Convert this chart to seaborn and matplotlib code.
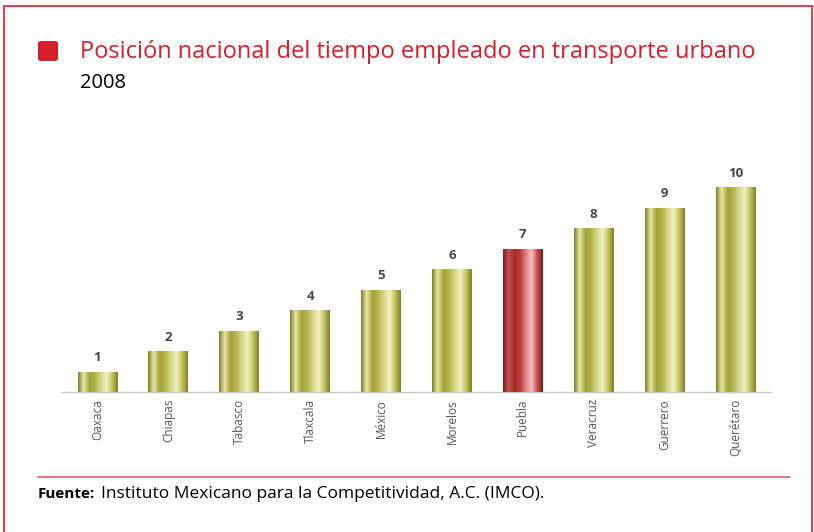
import matplotlib
matplotlib.use("Agg")
import matplotlib.pyplot as plt
import seaborn as sns
import numpy as np
import pandas as pd
from matplotlib.patches import Rectangle, FancyBboxPatch
from matplotlib.colors import LinearSegmentedColormap
from matplotlib.lines import Line2D

sns.set_style("white")
plt.rcParams['font.family'] = ['Open Sans', 'DejaVu Sans']

# Data
estados = ['Oaxaca', 'Chiapas', 'Tabasco', 'Tlaxcala', 'México',
           'Morelos', 'Puebla', 'Veracruz', 'Guerrero', 'Querétaro']
posicion = [1, 2, 3, 4, 5, 6, 7, 8, 9, 10]
resaltado = 'Puebla'

df = pd.DataFrame({'estado': estados, 'posicion': posicion})

# Cylinder-like gradients
olive_cmap = LinearSegmentedColormap.from_list(
    'olive', ['#7f7f25', '#e9e9a6', '#a3a33a', '#b5b54c', '#d6d68a',
              '#f1f1c4', '#c4c45c', '#7f7f25'])
red_cmap = LinearSegmentedColormap.from_list(
    'rojo', ['#7a1c1c', '#c85050', '#a82a2a', '#b83a3a', '#e08080',
             '#f6c0c0', '#c85050', '#7a1c1c'])

W, H = 814, 532
fig = plt.figure(figsize=(W / 100, H / 100), dpi=100)
fig.patch.set_facecolor('white')

ax = fig.add_axes([62 / W, (H - 392) / H, (771 - 62) / W, 225.5 / H])
palette = {e: ('#b83a3a' if e == resaltado else '#b5b54c') for e in estados}
sns.barplot(data=df, x='estado', y='posicion', hue='estado', palette=palette,
            width=0.56, legend=False, ax=ax, linewidth=0)
ax.set_ylim(0, 11)
ax.set_xlim(-0.5, len(estados) - 0.5)

# Gradient fill clipped to each bar
grad = np.linspace(0, 1, 256).reshape(1, -1)
for patch, est, val in zip(ax.patches, estados, posicion):
    x0, y0 = patch.get_x(), patch.get_y()
    w, h = patch.get_width(), patch.get_height()
    cmap = red_cmap if est == resaltado else olive_cmap
    im = ax.imshow(grad, cmap=cmap, aspect='auto',
                   extent=[x0, x0 + w, y0, y0 + h], zorder=3)
    im.set_clip_path(patch)
    ax.text(x0 + w / 2, y0 + h + 0.35, str(val), ha='center', va='bottom',
            fontsize=9.5, fontweight='bold', color='#444444')

for s in ['top', 'right', 'left']:
    ax.spines[s].set_visible(False)
ax.spines['bottom'].set_color('#c8c8c8')
ax.spines['bottom'].set_linewidth(1)
ax.set_yticks([])
ax.set_xlabel('')
ax.set_ylabel('')
ax.set_xticks(range(len(estados)))
ax.set_xticklabels(estados, rotation=90, fontsize=8.5, color='#555555')
ax.tick_params(axis='x', length=0, pad=5)
ax.set_xticks(np.arange(-0.5, len(estados), 1), minor=True)
ax.tick_params(axis='x', which='minor', length=3, color='#c8c8c8', width=0.8)

# Frame and header
fig.patches.append(Rectangle((4 / W, -0.1), 808 / W, 1.1 - 6 / H,
                             transform=fig.transFigure, fill=False,
                             edgecolor='#e0202a', linewidth=1.2))
fig.patches.append(FancyBboxPatch((38 / W, 1 - 61 / H), 20 / W, 20 / H,
                                  boxstyle='round,pad=0,rounding_size=0.004',
                                  transform=fig.transFigure,
                                  facecolor='#d42029', edgecolor='none'))
fig.text(80 / W, 1 - 52 / H, 'Posición nacional del tiempo empleado en transporte urbano',
         fontsize=17, color='#d42029', va='center', ha='left')
fig.text(80 / W, 1 - 83 / H, '2008', fontsize=14.5, color='black',
         va='center', ha='left')

# Footer
fig.lines.append(Line2D([38 / W, 790 / W], [1 - 477 / H, 1 - 477 / H],
                        transform=fig.transFigure, color='#e05a66', linewidth=1.2))
fig.text(38 / W, 1 - 498 / H, 'Fuente:', fontsize=11, fontweight='bold',
         color='black', va='baseline', ha='left')
fig.text(101 / W, 1 - 498 / H, 'Instituto Mexicano para la Competitividad, A.C. (IMCO).',
         fontsize=12.5, color='black', va='baseline', ha='left')

fig.savefig('out.png', dpi=100, facecolor='white')
